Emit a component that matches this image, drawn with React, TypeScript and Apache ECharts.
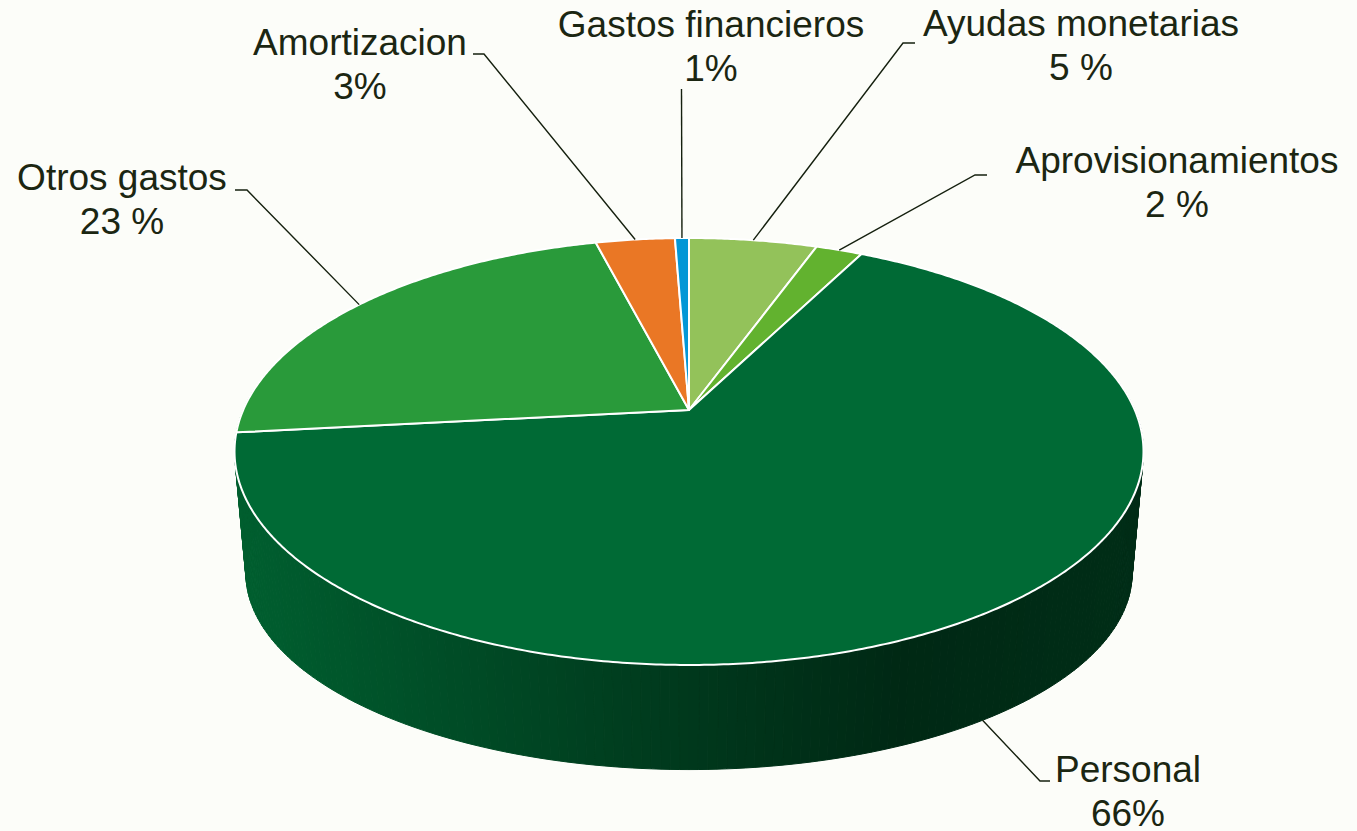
import React, { useEffect, useRef } from 'react';
import * as echarts from 'echarts';

// ---- data ----
const CATEGORIES = [
  'Ayudas monetarias',
  'Aprovisionamientos',
  'Personal',
  'Otros gastos',
  'Amortizacion',
  'Gastos financieros',
];
const VALUES = [5.5, 2.0, 65.8, 22.7, 3.4, 0.6];
const PERCENT_LABELS = ['5 %', '2 %', '66%', '23 %', '3%', '1%'];

// ---- styles ----
const COLORS = ['#93c25a', '#62b22f', '#006a35', '#299a3a', '#ea7725', '#0397d6'];
const TEXT_COLOR = '#1b2612';
const FONT = '37px "Liberation Sans", Arial, sans-serif';
const LINE_GAP = 44;

// ---- layout (3D projection of the pie) ----
const GEO = {
  cx: 689,
  cy: 410,
  rx: 445.8,
  ry: 205.4,
  k: 0.1944, // perspective strength
  bottomCy: 535,
  bottomSx: 0.975,
  bottomSy: 0.92,
};
// label placement (elbow of leader line, end of leader line, text centre x, first baseline)
const LABEL_LAYOUT = [
  { elbow: [903, 43], end: [915, 43], cx: 1081, base: 36 },
  { elbow: [975, 175], end: [987, 175], cx: 1177, base: 173 },
  { elbow: [1040, 781], end: [1050, 781], cx: 1128, base: 782 },
  { elbow: [247, 190], end: [235, 190], cx: 122, base: 190 },
  { elbow: [484, 54], end: [473, 54], cx: 360, base: 55 },
  { elbow: [681.5, 89], end: null, cx: 711, base: 37 },
];
const SIDE_SHADE = [
  [0, 0.9],
  [0.4, 0.6],
  [0.73, 0.38],
  [1, 0.43],
];

function topPt(phi: number): number[] {
  const u = Math.sin(phi);
  const v = -Math.cos(phi);
  const w = 1 - GEO.k * v;
  return [GEO.cx + (GEO.rx * u) / w, GEO.cy + (GEO.ry * v) / w];
}
function bottomPt(phi: number): number[] {
  const [x, y] = topPt(phi);
  return [GEO.cx + GEO.bottomSx * (x - GEO.cx), GEO.bottomCy + GEO.bottomSy * (y - GEO.cy)];
}
function hexToRgb(h: string) {
  const n = parseInt(h.slice(1), 16);
  return [(n >> 16) & 255, (n >> 8) & 255, n & 255];
}
function shade(hex: string, t: number) {
  let m = SIDE_SHADE[SIDE_SHADE.length - 1][1];
  for (let i = 0; i < SIDE_SHADE.length - 1; i++) {
    const [t0, m0] = SIDE_SHADE[i];
    const [t1, m1] = SIDE_SHADE[i + 1];
    if (t >= t0 && t <= t1) {
      m = m0 + ((m1 - m0) * (t - t0)) / (t1 - t0);
      break;
    }
  }
  const [r, g, b] = hexToRgb(hex);
  return `rgb(${Math.round(r * m)},${Math.round(g * m)},${Math.round(b * m)})`;
}

export default function App() {
  const ref = useRef<HTMLDivElement>(null);
  useEffect(() => {
    const chart = echarts.init(ref.current!, null, { renderer: 'svg' });
    const total = VALUES.reduce((a, b) => a + b, 0);
    const starts: number[] = [];
    let acc = 0;
    VALUES.forEach((v) => {
      starts.push((acc / total) * Math.PI * 2);
      acc += v;
    });
    const leftX = GEO.cx - GEO.rx / Math.sqrt(1 - GEO.k * GEO.k);
    const widthX = (2 * GEO.rx) / Math.sqrt(1 - GEO.k * GEO.k);
    const deg = Math.PI / 180;

    const renderItem = (params: any, api: any) => {
      const i = params.dataIndex;
      const val = api.value(0);
      const s = starts[i];
      const e = s + (val / total) * Math.PI * 2;
      const color = COLORS[i];
      const children: any[] = [];

      // side wall (front part only), nearer pieces drawn above farther ones
      const a0 = Math.max(s, 60 * deg);
      const a1 = Math.min(e, 300 * deg);
      if (a1 > a0) {
        const step = 1 * deg;
        for (let a = a0; a < a1; a += step) {
          const b = Math.min(a + step, a1);
          const p1 = topPt(a), p2 = topPt(b), p3 = bottomPt(b), p4 = bottomPt(a);
          const xm = (p1[0] + p2[0] + p3[0] + p4[0]) / 4;
          const c = shade(color, Math.min(1, Math.max(0, (xm - leftX) / widthX)));
          const vMid = -Math.cos((a + b) / 2);
          children.push({
            type: 'polygon',
            z2: 3 + vMid * 2,
            shape: { points: [p1, p2, p3, p4] },
            style: { fill: c, stroke: c, lineWidth: 1 },
          });
        }
      }

      // top face
      const pts: number[][] = [[GEO.cx, GEO.cy]];
      const n = Math.max(2, Math.ceil((e - s) / (0.5 * deg)));
      for (let j = 0; j <= n; j++) pts.push(topPt(s + ((e - s) * j) / n));
      children.push({
        type: 'polygon',
        z2: 10,
        shape: { points: pts },
        style: { fill: color, stroke: '#ffffff', lineWidth: 2, lineJoin: 'round' },
      });

      // leader line
      const mid = (s + e) / 2;
      const onSide = mid > 100 * deg && mid < 260 * deg;
      const start = onSide ? bottomPt(mid) : topPt(mid);
      const L = LABEL_LAYOUT[i];
      const lp: number[][] = [start, L.elbow];
      if (L.end) lp.push(L.end);
      children.push({
        type: 'polyline',
        z2: 20,
        shape: { points: lp },
        style: { stroke: '#15200f', lineWidth: 1.4, fill: null },
      });

      // labels
      [CATEGORIES[i], PERCENT_LABELS[i]].forEach((t, j) => {
        children.push({
          type: 'text',
          z2: 30,
          style: {
            text: t,
            x: L.cx,
            y: L.base + j * LINE_GAP - 12.8,
            fill: TEXT_COLOR,
            font: FONT,
            align: 'center',
            verticalAlign: 'middle',
            textAlign: 'center',
            textVerticalAlign: 'middle',
          },
        });
      });

      return { type: 'group', children };
    };

    chart.setOption({
      animation: false,
      backgroundColor: '#fcfdf9',
      series: [
        {
          type: 'custom',
          coordinateSystem: 'none',
          silent: true,
          data: VALUES.map((v, i) => ({ name: CATEGORIES[i], value: v })),
          renderItem,
        },
      ],
    });
    return () => chart.dispose();
  }, []);
  return (
    <div
      ref={ref}
      style={{ position: 'absolute', left: 0, top: 0, width: 1357, height: 831 }}
    />
  );
}
